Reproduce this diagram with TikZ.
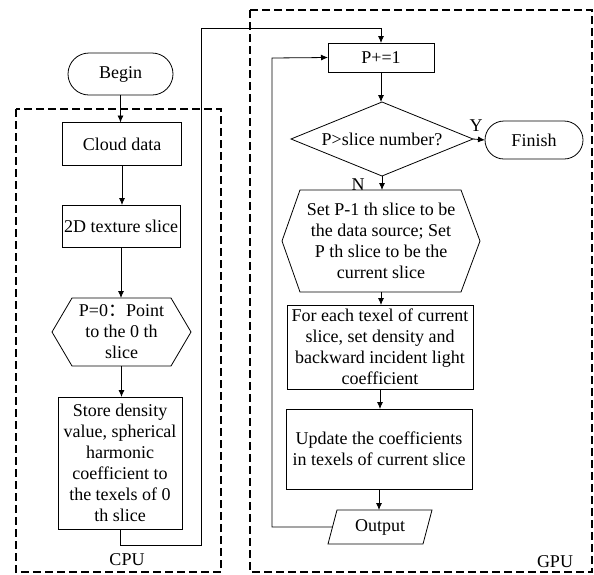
\documentclass[tikz,border=0pt]{standalone}
\usepackage{fontspec}
\setmainfont{Liberation Serif}
\newfontfamily\cjk{Noto Sans CJK SC}
\usetikzlibrary{arrows.meta,calc}
\begin{document}
\begin{tikzpicture}[x=1pt,y=-1pt,
  base/.style={inner sep=0pt,outer sep=0pt,align=center,font=\fontsize{18}{21}\selectfont,line width=0.8pt},
  procbox/.style={base,draw,rectangle},
  termbox/.style={base,draw,rectangle,rounded corners=#1},
  ghost/.style={base,rectangle},
  lbl/.style={inner sep=0pt,font=\fontsize{18}{21}\selectfont},
  conn/.style={line width=0.8pt},
  arr/.style={conn,-{Latex[length=7pt,width=6pt]}},
  region/.style={line width=2.4pt,dash pattern=on 8pt off 4pt}
]
\useasboundingbox (0,0) rectangle (594,574);
\fill[white] (0,0) rectangle (594,574);

% dashed regions
\draw[region] (16,109) rectangle (221,572);
\draw[region] (250,10) rectangle (592,572);
\node[lbl] (cpu) at (127,560) {CPU};
\node[lbl] (gpu) at (555,562) {GPU};

% CPU side
\node[termbox=21pt,minimum width=105pt,minimum height=42pt] (begin) at (120.5,74) {Begin};
\node[procbox,minimum width=119pt,minimum height=43pt] (cloud) at (122,144) {Cloud data};
\node[procbox,minimum width=118pt,minimum height=42pt] (tex) at (121,226) {2D texture slice};
\node[ghost,minimum width=139pt,minimum height=68pt] (hexa) at (121.5,332) {P=0{\cjk ：}Point\\to the 0 th\\slice};
\draw[conn] ($(hexa.north west)+(20,0)$) -- ($(hexa.north east)+(-20,0)$) -- (hexa.east)
  -- ($(hexa.south east)+(-20,0)$) -- ($(hexa.south west)+(20,0)$) -- (hexa.west) -- cycle;
\node[procbox,minimum width=124pt,minimum height=132pt] (store) at (120,463) {Store density\\value, spherical\\harmonic\\coefficient to\\the texels of 0\\th slice};

% GPU side
\node[procbox,minimum width=106pt,minimum height=29pt] (pinc) at (381,57.5) {P+=1};
\node[ghost,minimum width=182pt,minimum height=74pt] (dec) at (382,139) {P>slice number?};
\draw[conn] (dec.north) -- (dec.east) -- (dec.south) -- (dec.west) -- cycle;
\node[termbox=19pt,minimum width=98pt,minimum height=38pt] (finish) at (534,140) {Finish};
\node[ghost,minimum width=198pt,minimum height=102pt] (hexb) at (381,241) {Set P-1 th slice to be\\the data source; Set\\P th slice to be the\\current slice};
\draw[conn] ($(hexb.north west)+(18,0)$) -- ($(hexb.north east)+(-19,0)$) -- (hexb.east)
  -- ($(hexb.south east)+(-19,0)$) -- ($(hexb.south west)+(18,0)$) -- (hexb.west) -- cycle;
\node[procbox,minimum width=186pt,minimum height=84pt] (each) at (380,347) {For each texel of current\\slice, set density and\\backward incident light\\coefficient};
\node[procbox,minimum width=186pt,minimum height=80pt] (upd) at (379,449) {Update the coefficients\\in texels of current slice};
\node[ghost,minimum width=95pt,minimum height=34pt] (out) at (380,527) {Output};
\draw[conn] ($(out.north west)+(4.5,0)$) -- ($(out.north east)+(4.5,0)$)
  -- ($(out.south east)+(-4.5,0)$) -- ($(out.south west)+(-4.5,0)$) -- cycle;

\node[lbl] (ylab) at (476,126) {Y};
\node[lbl] (nlab) at (358,185) {N};

% connectors
\draw[arr] (begin.south) -- (begin.south |- cloud.north);
\draw[arr] (cloud.south) -- (cloud.south |- tex.north);
\draw[arr] (tex.south) -- (tex.south |- hexa.north);
\draw[arr] (hexa.south) -- (hexa.south |- store.north);
\coordinate (c1) at (201,545);
\coordinate (c2) at (201,28);
\draw[arr] (store.south) |- (c1) -- (c2) -| (pinc.north);
\draw[arr] (pinc.south) -- (pinc.south |- dec.north);
\draw[arr] (dec.east) -- (finish.west);
\draw[arr] (dec.south) -- (dec.south |- hexb.north);
\draw[arr] (hexb.south) -- (hexb.south |- each.north);
\draw[arr] (each.south) -- (each.south |- upd.north);
\draw[arr] (upd.south) -- (upd.south |- out.north);
\coordinate (c3) at (272,58);
\draw[arr] (out.west) -| (c3) -- (pinc.west);
\end{tikzpicture}
\end{document}
